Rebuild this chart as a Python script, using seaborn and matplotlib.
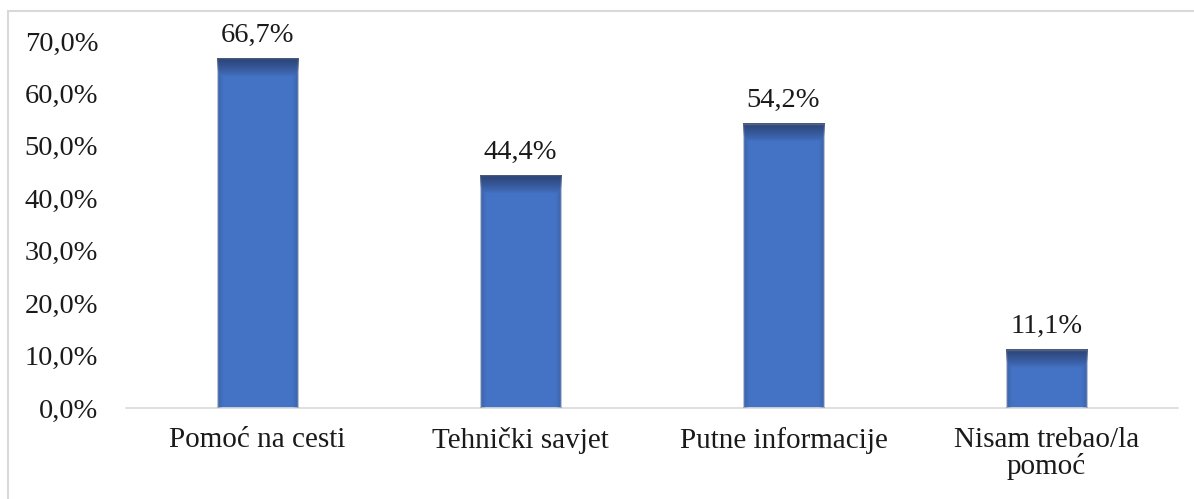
import numpy as np
import pandas as pd
import matplotlib
matplotlib.use("Agg")
import matplotlib.pyplot as plt
from matplotlib.lines import Line2D
from matplotlib.ticker import FuncFormatter
import seaborn as sns

categories = ["Pomoć na cesti", "Tehnički savjet", "Putne informacije", "Nisam trebao/la\npomoć"]
values = [66.7, 44.4, 54.2, 11.1]
labels = ["66,7%", "44,4%", "54,2%", "11,1%"]

bar_color = "#4472C4"
dark = np.array([0.15, 0.23, 0.40])

sns.set_theme(style="white")
plt.rcParams['font.family'] = ['Liberation Serif', 'DejaVu Serif']

df = pd.DataFrame({"cat": categories, "val": values})

fig = plt.figure(figsize=(11.94, 4.99), dpi=100)
ax = fig.add_axes([126 / 1194, 1 - 408 / 499, 1052 / 1194, 367 / 499])

sns.barplot(data=df, x="cat", y="val", color=bar_color, width=0.31,
            saturation=1, ax=ax, zorder=2)

# shading on top and sides of each bar
px_per_unit = 367 / 70
for p in ax.patches:
    x0, w, h = p.get_x(), p.get_width(), p.get_height()
    H, W = int(h * px_per_unit) * 2, 80
    top_px = np.linspace(0, h * px_per_unit, H)[:, None]
    top_fade = np.clip(1 - top_px / 18.0, 0, 1) ** 0.8
    xx = np.linspace(0, 1, W)[None, :]
    side = np.clip(1 - np.minimum(xx, 1 - xx) / 0.07, 0, 1) * 0.3
    alpha = np.maximum(top_fade * 0.85, side)
    img = np.zeros((H, W, 4))
    img[..., :3] = dark
    img[..., 3] = alpha
    ax.imshow(img, extent=[x0, x0 + w, 0, h], origin="upper", aspect="auto",
              zorder=3, interpolation="bilinear")

ax.set_xlim(-0.5, 3.5)
ax.set_ylim(0, 70)

for i, (v, lab) in enumerate(zip(values, labels)):
    ax.text(i, v + 2.0, lab, ha="center", va="bottom", fontsize=20.5, color="#1a1a1a")

ax.yaxis.set_major_formatter(FuncFormatter(lambda y, _: f"{y:.1f}".replace(".", ",") + "%"))
ax.set_yticks(np.arange(0, 71, 10))
ax.tick_params(axis="y", labelsize=20.5, colors="#1a1a1a", length=0, pad=20)
ax.tick_params(axis="x", labelsize=21, colors="#1a1a1a", length=0, pad=14)
for t in ax.get_xticklabels():
    t.set_multialignment("center")
    t.set_linespacing(1.0)
ax.set_xlabel("")
ax.set_ylabel("")

for s in ["top", "right", "left"]:
    ax.spines[s].set_visible(False)
ax.spines["bottom"].set_color("#d9d9d9")
ax.spines["bottom"].set_linewidth(1.2)

fig.add_artist(Line2D([8 / 1194, 8 / 1194], [0, 1 - 11 / 499], transform=fig.transFigure,
                      color="#d9d9d9", lw=1.5))
fig.add_artist(Line2D([8 / 1194, 1], [1 - 11 / 499, 1 - 11 / 499], transform=fig.transFigure,
                      color="#d9d9d9", lw=1.5))

fig.savefig("out.png", dpi=100)
